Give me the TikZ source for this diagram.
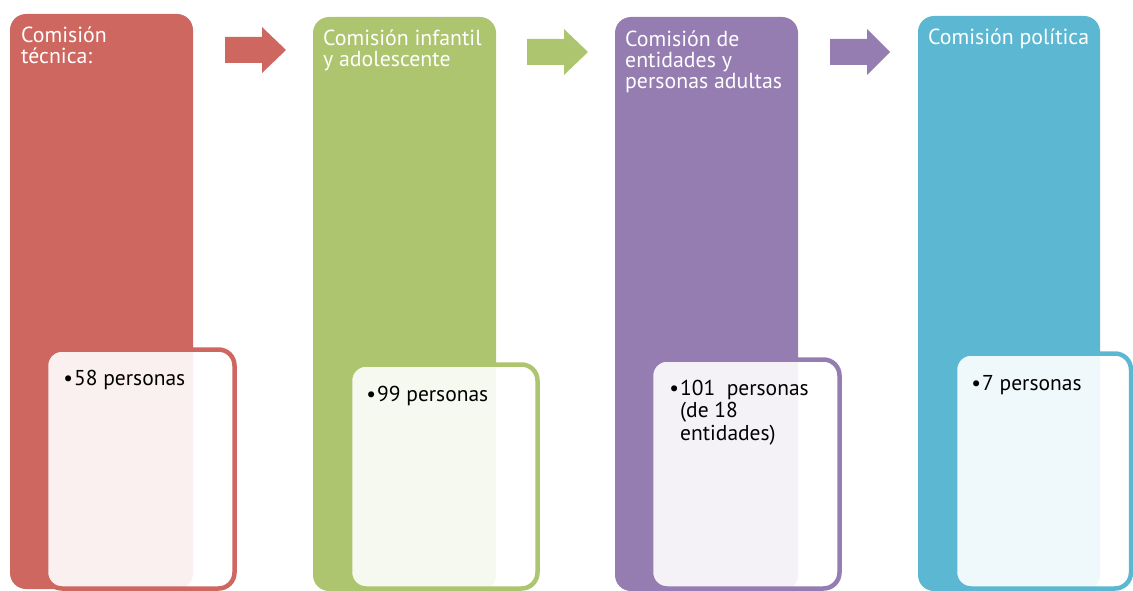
\documentclass[tikz,border=0pt]{standalone}
\usepackage{fontspec}
\setmainfont{PT Sans}
\definecolor{cred}{RGB}{205,103,96}
\definecolor{cgreen}{RGB}{173,197,110}
\definecolor{cpurple}{RGB}{149,124,177}
\definecolor{cblue}{RGB}{92,184,210}
\begin{document}
\begin{tikzpicture}[x=1pt,y=-1pt,
  outerbox/.style={rounded corners=16pt},
  innerbox/.style={rounded corners=16pt, line width=4.5pt, fill=white, fill opacity=0.9, draw opacity=1},
  titletext/.style={anchor=base west, inner sep=0pt, text=white,
     font=\fontsize{21.8}{21}\selectfont},
  itemtext/.style={anchor=base west, inner sep=0pt, text=black,
     font=\fontsize{21.5}{22}\selectfont}]
\useasboundingbox (0,0) rectangle (1133,591);
% column 1
\fill[outerbox, cred] (10,14) rectangle (193,589);
\draw[innerbox, draw=cred] (46,349.5) rectangle (234.5,588.5);
\node[titletext] (t1) at (21,43) {\vtop{\hbox{Comisión}\hbox{técnica:}}};
\node[itemtext] (i1) at (74,385) {\llap{•\kern1pt}58 personas};
% column 2
\fill[outerbox, cgreen] (313,17) rectangle (496,591);
\draw[innerbox, draw=cgreen] (350,364.5) rectangle (537.5,588.5);
\node[titletext] (t2) at (323,46) {\vtop{\hbox{Comisión infantil}\hbox{y adolescente}}};
\node[itemtext] (i2) at (377,401) {\llap{•\kern1pt}99 personas};
% column 3
\fill[outerbox, cpurple] (615,17) rectangle (798,591);
\draw[innerbox, draw=cpurple] (651,359.5) rectangle (839.5,588.5);
\node[titletext] (t3) at (625,47) {\vtop{\hbox{Comisión de}\hbox{entidades y}\hbox{personas adultas}}};
\node[itemtext] (i3) at (680,395) {\vtop{\hbox{\llap{•\kern1pt}101~ personas}\hbox{(de 18}\vskip1pt\hbox{entidades)}}};
% column 4
\fill[outerbox, cblue] (918,16) rectangle (1100,591);
\draw[innerbox, draw=cblue] (955,353.5) rectangle (1131,588.5);
\node[titletext] (t4) at (928,45) {Comisión política};
\node[itemtext] (i4) at (982,390) {\llap{•\kern1pt}7 personas};
% block arrows
\fill[cred] (225,37) -- (262,37) -- (262,27) -- (286,50) -- (262,73) -- (262,63) -- (225,63) -- cycle;
\fill[cgreen] (527,39) -- (564,39) -- (564,29) -- (588,52) -- (564,75) -- (564,65) -- (527,65) -- cycle;
\fill[cpurple] (830,39) -- (867,39) -- (867,29) -- (890,52) -- (867,75) -- (867,65) -- (830,65) -- cycle;
\end{tikzpicture}
\end{document}
